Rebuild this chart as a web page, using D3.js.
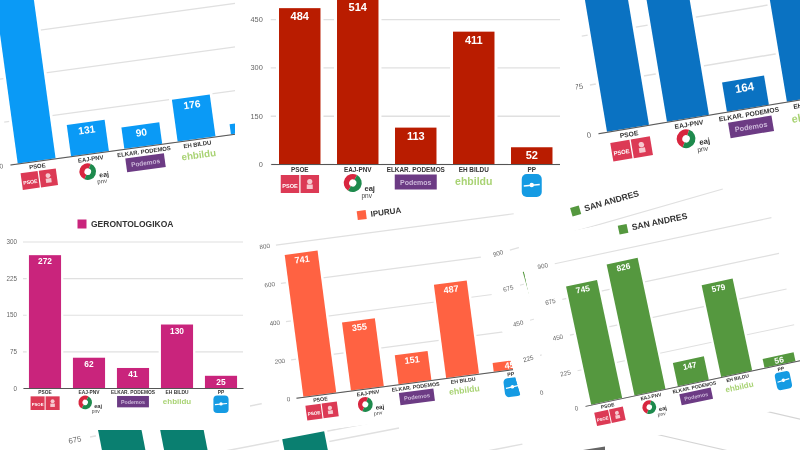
<!DOCTYPE html>
<html><head><meta charset="utf-8">
<style>html,body{margin:0;padding:0;background:#fff;overflow:hidden}svg{display:block;filter:blur(.7px)}
text{font-family:"Liberation Sans",Arial,sans-serif}</style>
<script src="https://cdn.jsdelivr.net/npm/d3@7"></script></head><body>
<script>
const categories=["PSOE","EAJ-PNV","ELKAR. PODEMOS","EH BILDU","PP"];
const azulClaroValues=[730,131,90,176,42];
const rojoValues=[484,514,113,411,52];
const azulValues=[860,900,164,840,60];
const gerontoValues=[272,62,41,130,25];
const ipuruaValues=[741,355,151,487,45];
const sanAndresValues=[745,826,147,579,56];
const tealLeftValues=[860,880,300,400,90];
const tealRightValues=[500,675,200,350,60];
const azulClaroTicks=[0,180,360,540,720,900];
const rojoTicks=[0,150,300,450,600];
const azulTicks=[0,275,550,825,1100];
const gerontoTicks=[0,75,150,225,300];
const ipuruaTicks=[0,200,400,600,800];
const sanAndresTicks=[0,225,450,675,900];
const tealTicks=[0,225,450,675];

const W=800,H=450;
const svg=d3.select("body").append("svg").attr("width",W).attr("height",H).attr("viewBox",`0 0 ${W} ${H}`);
svg.append("rect").attr("width",W).attr("height",H).attr("fill","#fff");
const defs=svg.append("defs");

const panels=[
 {id:"a",values:azulClaroValues,ticks:azulClaroTicks,ox:10,oy:164.5,angle:-7.8,step:53.8,pad:.29,plotH:216,color:"#0a9af6",box:[-60,-220,320,50],lblDx:-7,labelled:[0]},
 {id:"b",values:rojoValues,ticks:rojoTicks,ox:270.75,oy:164,angle:0,step:58,pad:.285,plotH:193.2,color:"#b91c00",box:[-35.75,-200,289.25,41],lblDx:-8},
 {id:"c",values:azulValues,ticks:azulTicks,ox:598,oy:133.3,angle:-9.5,step:60.8,pad:.3,plotH:198,color:"#0a72c2",box:[-14,-240,330,50],lblDx:-7,labelled:[0,275]},
 {id:"h",values:[],ticks:tealTicks,ox:589.4,oy:466.5,angle:13,step:46,pad:.3,plotH:141,color:"#888",noBg:true,noAxis:true},
 {id:"g1",values:tealLeftValues,ticks:tealTicks,ox:118.6,oy:583.8,angle:-11,step:61,pad:.3,plotH:150,color:"#0a7f70",noBg:true,noLabels:true,lblDx:-9,labelled:[675]},
 {id:"g2",values:tealRightValues,ticks:tealTicks,ox:242,oy:600,angle:-11,step:61,pad:.3,plotH:150,color:"#0a7f70",noBg:true,noLabels:true,labelled:[]},
 {id:"e",values:ipuruaValues,ticks:ipuruaTicks,ox:296,oy:397.7,angle:-7.5,step:48,pad:.31,plotH:154.4,color:"#ff6242",box:[-35,-182,240,36],lblDx:-6,legend:"IPURUA",legX:89,legY:-172.5,legFs:8},
 {id:"f2",values:sanAndresValues,ticks:sanAndresTicks,ox:550,oy:390,angle:-16,step:44.3,pad:.285,plotH:146,color:"#55983f",box:[-30,-174,232,44],lblDx:-7,legend:"SAN ANDRES",legX:74,legY:-165,legFs:8.6},
 {id:"f",values:sanAndresValues,ticks:sanAndresTicks,ox:585,oy:406,angle:-12,step:44.3,pad:.285,plotH:146,color:"#55983f",box:[-32,-174,232,44],lblDx:-7,legend:"SAN ANDRES",legX:74,legY:-165,legFs:8.6},
 {id:"d",values:gerontoValues,ticks:gerontoTicks,ox:23,oy:388,angle:0,step:44,pad:.27,plotH:146.5,color:"#c9247c",box:[-30,-183,227,42],lblDx:-6,legend:"GERONTOLOGIKOA",legX:59,legY:-164,legFs:8.5}
];

function logo(g,cat,s){
  const t=g.append("g").attr("transform",`scale(${s})`);
  if(cat==="PSOE"){
    t.append("rect").attr("x",-19).attr("y",11).attr("width",18.5).attr("height",18).attr("fill","#dc3a55");
    t.append("rect").attr("x",.8).attr("y",11).attr("width",18.5).attr("height",18).attr("fill","#dc3a55");
    t.append("text").attr("x",-9.8).attr("y",23.5).attr("text-anchor","middle").attr("font-size",5.6).attr("font-weight",700).attr("fill","#fff").text("PSOE");
    t.append("circle").attr("cx",10).attr("cy",17.5).attr("r",2.6).attr("fill","#f6c9cf");
    t.append("rect").attr("x",7).attr("y",20.5).attr("width",6).attr("height",4.5).attr("fill","#f6c9cf");
  } else if(cat==="EAJ-PNV"){
    const arc=d3.arc().innerRadius(3.6).outerRadius(9);
    const c=t.append("g").attr("transform","translate(-5,19)");
    c.append("path").attr("d",arc({startAngle:-2.6,endAngle:.5})).attr("fill","#d8263f");
    c.append("path").attr("d",arc({startAngle:.5,endAngle:3.68})).attr("fill","#1e8a4d");
    t.append("text").attr("x",12).attr("y",27).attr("text-anchor","middle").attr("font-size",7.5).attr("font-weight",700).attr("fill","#333").text("eaj");
    t.append("text").attr("x",9).attr("y",33.5).attr("text-anchor","middle").attr("font-size",6.5).attr("fill","#444").text("pnv");
  } else if(cat==="ELKAR. PODEMOS"){
    t.append("rect").attr("x",-21).attr("y",10.5).attr("width",42).attr("height",15).attr("fill","#6c3b84");
    t.append("text").attr("x",0).attr("y",20.5).attr("text-anchor","middle").attr("font-size",7).attr("font-weight",700).attr("fill","#cdb9da").text("Podemos");
  } else if(cat==="EH BILDU"){
    t.append("text").attr("x",0).attr("y",21).attr("text-anchor","middle").attr("font-size",10.5).attr("font-weight",700).attr("fill","#a9d374").text("ehbildu");
  } else {
    t.append("rect").attr("x",-10).attr("y",10).attr("width",20).attr("height",23).attr("rx",5).attr("fill","#159be3");
    t.append("path").attr("d","M-8,22 L8,20.5").attr("fill","none").attr("stroke","#fff").attr("stroke-width",1.5);
    t.append("circle").attr("cx",0).attr("cy",21).attr("r",2.2).attr("fill","#fff");
  }
}

panels.forEach(p=>{
  const s=p.step/58, plotW=p.step*5, pad=p.pad;
  const x=d3.scaleBand().domain(categories).range([0,plotW]).paddingInner(pad).paddingOuter(pad/2);
  const y=d3.scaleLinear().domain([0,d3.max(p.ticks)]).range([0,-p.plotH]);
  const g=svg.append("g").attr("transform",`translate(${p.ox},${p.oy}) rotate(${p.angle})`);
  if(!p.noBg){
    const [l,t,r,b]=p.box;
    defs.append("clipPath").attr("id","clip-"+p.id).append("rect").attr("x",l).attr("y",t).attr("width",r-l).attr("height",b-t);
    g.attr("clip-path",`url(#clip-${p.id})`);
    g.append("rect").attr("x",l).attr("y",t).attr("width",r-l).attr("height",b-t).attr("fill","#fff");
  }
  const labelled=p.labelled||p.ticks;
  const yAxis=d3.axisLeft(y).tickValues(p.ticks).tickSize(-plotW).tickPadding(-(p.lblDx||-7))
     .tickFormat(v=>labelled.includes(v)?v:"");
  const ya=g.append("g").call(yAxis);
  ya.select(".domain").remove();
  ya.selectAll("line").attr("stroke",p.id==="h"?"#d4d4d4":"#e0e0e0").attr("stroke-width",1.4*Math.max(s,.8));
  ya.selectAll("text").attr("font-size",7.4*Math.max(s,.85)).attr("fill","#666").attr("font-family","Liberation Sans");
  if(p.id==="h"){
    ya.selectAll("text").remove();
    return;
  }
  const bars=g.selectAll(".bar").data(p.values.map((v,i)=>({v,c:categories[i]}))).join("g");
  bars.append("rect").attr("x",d=>x(d.c)-3*s).attr("width",x.bandwidth()+6*s).attr("y",d=>y(d.v)-3*s).attr("height",d=>-y(d.v)+3*s).attr("fill","#fff");
  bars.append("rect").attr("x",d=>x(d.c)).attr("width",x.bandwidth()).attr("y",d=>y(d.v)).attr("height",d=>-y(d.v)).attr("fill",p.color);
  if(!p.noLabels){
    bars.append("text").attr("x",d=>x(d.c)+x.bandwidth()/2).attr("text-anchor","middle")
      .attr("y",d=>y(d.v)+Math.min(12*s,-y(d.v)/2+3.8*s)).attr("font-size",11*s).attr("font-weight",700).attr("fill","#fff").text(d=>d.v);
  }
  const xa=g.append("g").call(d3.axisBottom(x).tickSize(0).tickSizeOuter(0).tickPadding(3.5*s));
  xa.select(".domain").attr("stroke","#555").attr("stroke-width",1);
  xa.selectAll("text").attr("font-size",6.4*s).attr("font-weight",700).attr("fill","#333").attr("font-family","Liberation Sans");
  categories.forEach(c=>logo(g.append("g").attr("transform",`translate(${x(c)+x.bandwidth()/2},0)`),c,s));
  if(p.legend){
    g.append("rect").attr("x",p.legX-4.5).attr("y",p.legY-4.5).attr("width",9).attr("height",9).attr("fill",p.color);
    g.append("text").attr("x",p.legX+9).attr("y",p.legY+3).attr("font-size",p.legFs).attr("font-weight",700).attr("fill","#333").text(p.legend);
  }
});
svg.append("path").attr("d","M583,450 L605,446.5 L605,450 Z").attr("fill","#666");
</script></body></html>
